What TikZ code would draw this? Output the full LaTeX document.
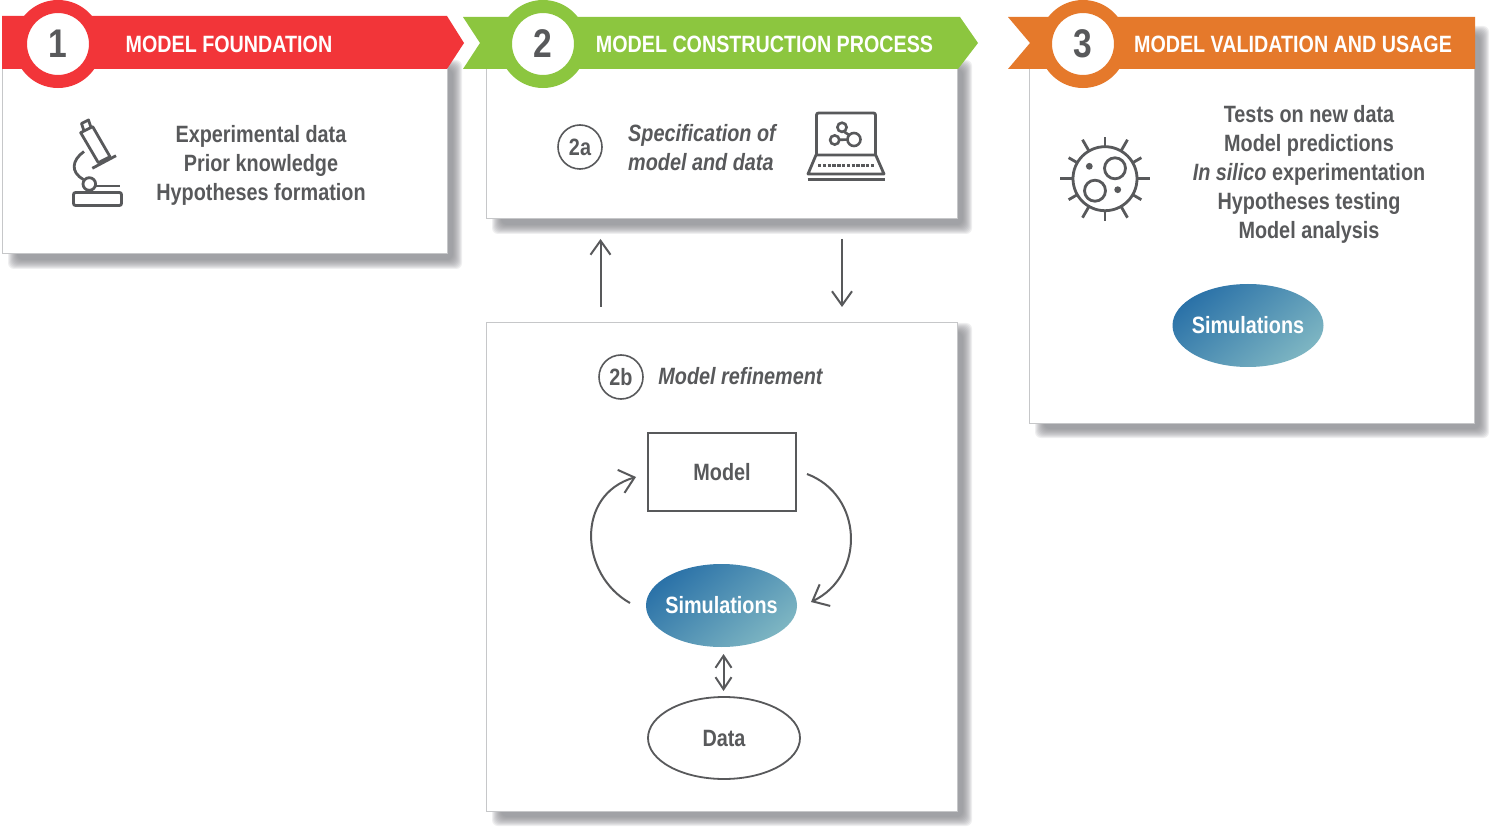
\documentclass[tikz,border=0pt]{standalone}
\usepackage{amsmath}
\usepackage{xcolor}
\usepackage{fontspec}
\usepackage{tikz}
\usetikzlibrary{arrows.meta,shapes.geometric}
\setmainfont[FakeStretch=0.84]{Liberation Sans}
\newfontfamily\bandfont[FakeStretch=0.835]{Liberation Sans}
\newfontfamily\digitfont[FakeStretch=0.84]{Liberation Sans}

\definecolor{redband}{HTML}{F23539}
\definecolor{greenband}{HTML}{8CC63F}
\definecolor{orangeband}{HTML}{E5792B}
\definecolor{inkgray}{HTML}{58595B}
\definecolor{edgegray}{HTML}{C6C7C9}
\definecolor{shadowgray}{HTML}{85878D}
\definecolor{simdark}{HTML}{2B72A8}
\definecolor{simlight}{HTML}{7DB5C2}

\tikzset{
  panelbox/.style={draw=edgegray, fill=white, line width=0.5pt, inner sep=0pt, outer sep=0pt},
  stepdisc/.style={circle, fill=white, text=inkgray, line width=6.5pt, minimum size=37.5pt,
    inner sep=0pt, outer sep=0pt, font=\digitfont\bfseries\fontsize{20}{20}\selectfont},
  titletext/.style={text=white, inner sep=0pt, font=\bandfont\bfseries\fontsize{11.8}{14}\selectfont},
  bodytext/.style={text=inkgray, inner sep=0pt, align=center, font=\bfseries\fontsize{11.8}{14.5}\selectfont},
  badge/.style={circle, draw=inkgray, line width=0.8pt, text=inkgray, minimum size=22pt,
    inner sep=0pt, font=\bfseries\fontsize{11.8}{14}\selectfont},
  simblob/.style={ellipse, top color=simdark, bottom color=simlight, shading angle=40, draw=none,
    text=white, minimum width=75.5pt, minimum height=41.5pt, inner xsep=-3pt, inner ysep=0pt,
    font=\bfseries\fontsize{11.8}{14}\selectfont},
  icon/.style={draw=inkgray, line width=1.4pt},
  thinarrow/.style={draw=inkgray, line width=1pt, -{Straight Barb[length=7pt,width=10pt]}},
  looparrow/.style={draw=inkgray, line width=1pt, -{Straight Barb[length=7pt,width=12pt]}}
}

\newcommand{\panelshadow}[4]{%
  \foreach \i in {0,...,9}
    \fill[shadowgray,opacity=0.13,rounded corners=3pt] (#1+6+\i,#2+\i) rectangle (#3+15-\i,#4+15-\i);
}

\begin{document}
\begin{tikzpicture}[x=0.5pt, y=-0.5pt]
\useasboundingbox (0,0) rectangle (1500,834);
\fill[white] (0,0) rectangle (1500,834);

% shadows
\panelshadow{2}{60}{447}{254}
\panelshadow{486}{60}{957}{219}
\panelshadow{486}{323}{957}{811}
\panelshadow{1029}{26}{1474}{423}

% panels
\node[panelbox, minimum width=222.5pt, minimum height=93pt] (foundation) at (224.5,161) {};
\node[panelbox, minimum width=235.5pt, minimum height=75pt] (specpanel) at (721.5,144) {};
\node[panelbox, minimum width=235.5pt, minimum height=244pt] (refinepanel) at (721.5,567) {};
\node[panelbox, minimum width=222.5pt, minimum height=177pt] (usagepanel) at (1251.5,246) {};

% ribbons
\fill[redband] (2,16)--(447,16)--(464,43)--(447,69)--(2,69)--cycle;
\fill[greenband] (463,17)--(960,17)--(978,43)--(958,69)--(463,69)--(480,43)--cycle;
\fill[orangeband] (1008,17)--(1475,17)--(1475,69)--(1008,69)--(1030,43)--cycle;

\node[stepdisc, draw=redband] (stepone) at (58,44) {1};
\node[stepdisc, draw=greenband] (steptwo) at (543,44) {2};
\node[stepdisc, draw=orangeband] (stepthree) at (1083,44) {3};

\node[titletext] (titleone) at (229,44) {MODEL FOUNDATION};
\node[titletext] (titletwo) at (764.5,44) {MODEL CONSTRUCTION PROCESS};
\node[titletext] (titlethree) at (1293,44) {MODEL VALIDATION AND USAGE};

% panel texts
\node[bodytext] (foundtext) at (261,165) {Experimental data\\Prior knowledge\\Hypotheses formation};
\node[bodytext] (usagetext) at (1309,174) {Tests on new data\\Model predictions\\\textit{In silico} experimentation\\Hypotheses testing\\Model analysis};
\node[badge] (twoa) at (580,147) {2a};
\node[bodytext, align=left, font=\bfseries\fontsize{11.8}{14.5}\selectfont\itshape] (spectext) at (702,148) {Specification of\\model and data};
\node[badge] (twob) at (621,377) {2b};
\node[bodytext, font=\bfseries\fontsize{11.8}{14.5}\selectfont\itshape] (refinetext) at (740.5,376.5) {Model refinement};

% microscope
\draw[icon, rounded corners=1pt] (73.5,192.5) rectangle (121.5,205.5);
\draw[icon] (89.3,184) circle (6.3);
\draw[icon] (95,186) -- (120,186);
\draw[icon] (84,151.5) .. controls (72,160) and (70,172) .. (83.5,179.5);
\draw[icon, line join=round] (80.7,132.7)--(92.7,126.7)--(110,156.7)--(98.3,162.7)--cycle;
\draw[icon, line join=round] (84,131)--(81.5,123.5)--(88.5,120)--(91,127.5);
\draw[icon] (92.3,168.3)--(116,155.7);

% laptop
\draw[icon, rounded corners=1pt] (816.5,155)--(816.5,113)--(875.5,113)--(875.5,155);
\draw[icon, line join=round] (816,155)--(875.7,155)--(884,174)--(808,174)--cycle;
\draw[draw=inkgray, line width=1.2pt] (807.5,179.5)--(884.5,179.5);
\draw[draw=inkgray, line width=1.5pt, dash pattern=on 1.7pt off 0.7pt] (818,165.5)--(874.5,165.5);
\draw[draw=inkgray, line width=1.3pt] (842,127.3) circle (4.6);
\draw[draw=inkgray, line width=1.3pt] (834.7,140) circle (4.6);
\draw[draw=inkgray, line width=1.3pt] (854,139.5) circle (6.5);
\draw[draw=inkgray, line width=1.3pt] (839.3,139.8)--(847.5,139.6);
\draw[draw=inkgray, line width=1.3pt] (844,131.6)--(849,135);

% virus
\draw[icon] (1105,178.7) circle (32);
\foreach \a in {0,60,...,300}
  \draw[icon] (1105,178.7) ++(\a:32) -- ++(\a:13);
\foreach \a in {30,90,...,330}
  \draw[icon] (1105,178.7) ++(\a:32) -- ++(\a:10);
\draw[draw=inkgray, line width=1.4pt] (1115,168.3) circle (10.5);
\draw[draw=inkgray, line width=1.4pt] (1095,190.7) circle (10.5);
\fill[inkgray] (1089.3,166.3) circle (3.4);
\fill[inkgray] (1117.7,189.7) circle (3.4);

% refinement loop
\node[draw=inkgray, line width=0.9pt, minimum width=74pt, minimum height=39pt, inner sep=0pt, text=inkgray,
  font=\bfseries\fontsize{11.8}{14}\selectfont] (model) at (722,472) {Model};
\node[simblob] (simulations) at (721.5,605.5) {Simulations};
\node[ellipse, draw=inkgray, line width=0.9pt, minimum width=76pt, minimum height=41pt, inner sep=0pt, text=inkgray,
  font=\bfseries\fontsize{11.8}{14}\selectfont] (data) at (724,738) {Data};
\node[simblob] (simusage) at (1248,325.5) {Simulations};

\coordinate (leftfoot) at (630,603);
\coordinate (lefthead) at (636,477);
\coordinate (rightfoot) at (807,474);
\coordinate (righthead) at (811,602);
\draw[looparrow] (leftfoot) .. controls (580,575) and (575,495) .. (lefthead);
\draw[looparrow] (rightfoot) .. controls (863,495) and (866,575) .. (righthead);

\coordinate (simlink) at (723.5,654);
\coordinate (datalink) at (723.5,691);
\draw[draw=inkgray, line width=1pt, {Straight Barb[length=6pt,width=8pt]}-{Straight Barb[length=6pt,width=8pt]}] (simlink) -- (datalink);

% arrows between the panels
\coordinate (upfoot) at (600.5,307);
\coordinate (uphead) at (600.5,239);
\coordinate (downfoot) at (842,239);
\coordinate (downhead) at (842,307);
\draw[thinarrow] (upfoot) -- (uphead);
\draw[thinarrow] (downfoot) -- (downhead);

\end{tikzpicture}
\end{document}
